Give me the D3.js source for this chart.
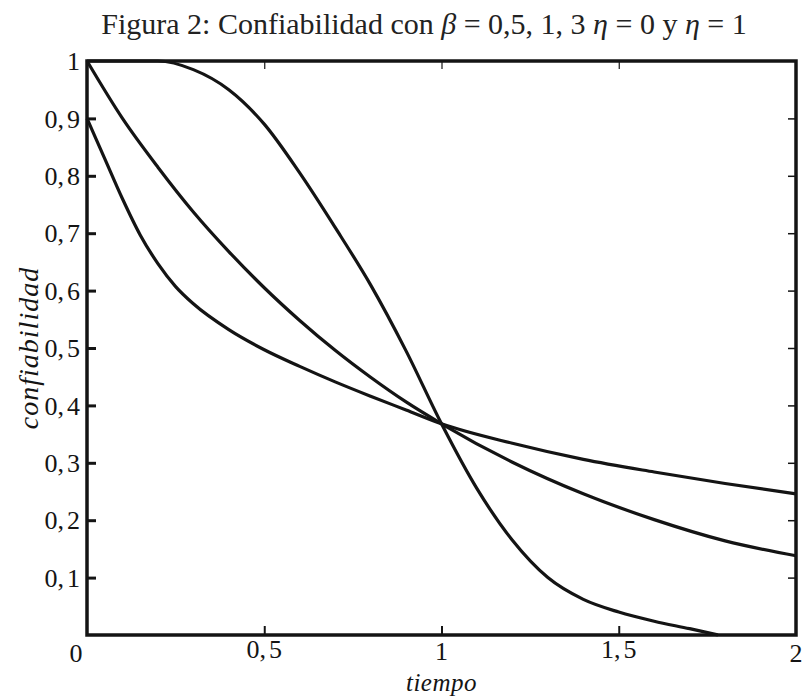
<!DOCTYPE html>
<html><head><meta charset="utf-8">
<script src="https://d3js.org/d3.v7.min.js"></script>
<style>body{margin:0;background:#fff}svg{display:block}</style>
</head><body>
<script>
// Data (Weibull reliability curves, eta = 1)
const beta05 = [[0,0.9],[0.05,0.83],[0.1,0.76],[0.15,0.697],[0.2,0.647],[0.25,0.607],[0.3,0.577],[0.4,0.532],[0.5,0.497],[0.6,0.468],[0.7,0.441],[0.8,0.416],[0.9,0.392],[1,0.368],[1.2,0.334],[1.4,0.306],[1.6,0.284],[1.8,0.264],[2,0.246]];
const beta1 = [[0,1],[0.1,0.9],[0.2,0.815],[0.3,0.737],[0.4,0.668],[0.5,0.605],[0.6,0.548],[0.7,0.496],[0.8,0.449],[0.9,0.406],[1,0.368],[1.2,0.301],[1.4,0.246],[1.6,0.201],[1.8,0.164],[2,0.138]];
const beta3 = [[0,1],[0.2,1],[0.3,0.985],[0.4,0.95],[0.5,0.89],[0.6,0.805],[0.7,0.71],[0.8,0.61],[0.9,0.495],[1,0.368],[1.1,0.255],[1.2,0.165],[1.3,0.1],[1.4,0.062],[1.5,0.04],[1.6,0.024],[1.7,0.011],[1.78,0]];
const xTicks = [0.5, 1, 1.5];
const yTicks = [0.1,0.2,0.3,0.4,0.5,0.6,0.7,0.8,0.9];
const xTickLabels = [[0,"0"],[0.5,"0,5"],[1,"1"],[1.5,"1,5"],[2,"2"]];
const yTickLabels = [[1,"1"],[0.9,"0,9"],[0.8,"0,8"],[0.7,"0,7"],[0.6,"0,6"],[0.5,"0,5"],[0.4,"0,4"],[0.3,"0,3"],[0.2,"0,2"],[0.1,"0,1"]];

const W = 805, H = 697;
const L = 87, R = 796, T = 61, B = 635;
const svg = d3.select("body").append("svg").attr("width", W).attr("height", H);
const x = d3.scaleLinear().domain([0,2]).range([L,R]);
const y = d3.scaleLinear().domain([0,1]).range([B,T]);
const ink = "#141414";
const serif = "'Liberation Serif','DejaVu Serif',serif";

// axes ticks (inward)
svg.append("g").attr("transform",`translate(${L},0)`)
  .call(d3.axisLeft(y).tickValues(yTicks).tickSize(-9).tickFormat(""))
  .call(g=>{g.select(".domain").remove(); g.selectAll("line").attr("stroke",ink).attr("stroke-width",3);});
svg.append("g").attr("transform",`translate(${R},0)`)
  .call(d3.axisRight(y).tickValues(yTicks).tickSize(-8).tickFormat(""))
  .call(g=>{g.select(".domain").remove(); g.selectAll("line").attr("stroke",ink).attr("stroke-width",1.5);});
svg.append("g").attr("transform",`translate(0,${B})`)
  .call(d3.axisBottom(x).tickValues(xTicks).tickSize(-9).tickFormat(""))
  .call(g=>{g.select(".domain").remove(); g.selectAll("line").attr("stroke",ink).attr("stroke-width",2);});
svg.append("g").attr("transform",`translate(0,${T})`)
  .call(d3.axisTop(x).tickValues(xTicks).tickSize(-8).tickFormat(""))
  .call(g=>{g.select(".domain").remove(); g.selectAll("line").attr("stroke",ink).attr("stroke-width",1.2);});

// curves
const line = d3.line().x(d=>x(d[0])).y(d=>y(d[1])).curve(d3.curveMonotoneX);
[beta05, beta1, beta3].forEach(s=>{
  svg.append("path").datum(s).attr("d", line).attr("fill","none")
    .attr("stroke", ink).attr("stroke-width", 3.2).attr("stroke-linejoin","round");
});

// frame
svg.append("rect").attr("x",L).attr("y",T).attr("width",R-L).attr("height",B-T)
  .attr("fill","none").attr("stroke",ink).attr("stroke-width",3.5);

// label writer: math-style comma spacing "0, 5"
function writeLabel(sel){
  sel.each(function(d){
    const t = d3.select(this); const parts = d[1].split(",");
    t.append("tspan").text(parts[0] + (parts.length>1 ? "," : ""));
    if (parts.length>1) t.append("tspan").attr("dx",3).text(parts[1]);
  });
}

// y tick labels
svg.append("g").selectAll("text").data(yTickLabels).join("text")
  .attr("x", L-7).attr("y", d=>y(d[0])).attr("dy","0.35em")
  .attr("text-anchor","end").attr("font-family",serif).attr("font-size",26)
  .attr("fill",ink).call(writeLabel);

// x tick labels
const xLabY = {"0":653, "0,5":649, "1":651, "1,5":649, "2":653};
svg.append("g").selectAll("text").data(xTickLabels).join("text")
  .attr("x", d=> d[0]===0 ? x(d[0])-11 : x(d[0]))
  .attr("y", d=> xLabY[d[1]])
  .attr("dy","0.35em")
  .attr("text-anchor","middle").attr("font-family",serif).attr("font-size",26)
  .attr("fill",ink).call(writeLabel);

// axis titles
svg.append("text").attr("x", x(1)).attr("y", 691).attr("text-anchor","middle")
  .attr("font-family",serif).attr("font-style","italic").attr("font-size",25)
  .attr("letter-spacing",0.5).attr("fill",ink).text("tiempo");
svg.append("text").attr("transform",`translate(38,${(T+B)/2}) rotate(-90)`).attr("text-anchor","middle")
  .attr("font-family",serif).attr("font-style","italic").attr("font-size",28)
  .attr("letter-spacing",1).attr("fill",ink).text("confiabilidad");

// title
const title = svg.append("text").attr("x", 424).attr("y", 34).attr("text-anchor","middle")
  .attr("font-family",serif).attr("font-size",30).attr("fill","#222");
title.append("tspan").text("Figura 2: Confiabilidad con ");
title.append("tspan").attr("font-style","italic").text("β");
title.append("tspan").text(" = 0,5, 1, 3 ");
title.append("tspan").attr("font-style","italic").text("η");
title.append("tspan").text(" = 0 y ");
title.append("tspan").attr("font-style","italic").text("η");
title.append("tspan").text(" = 1");
</script>
</body></html>
